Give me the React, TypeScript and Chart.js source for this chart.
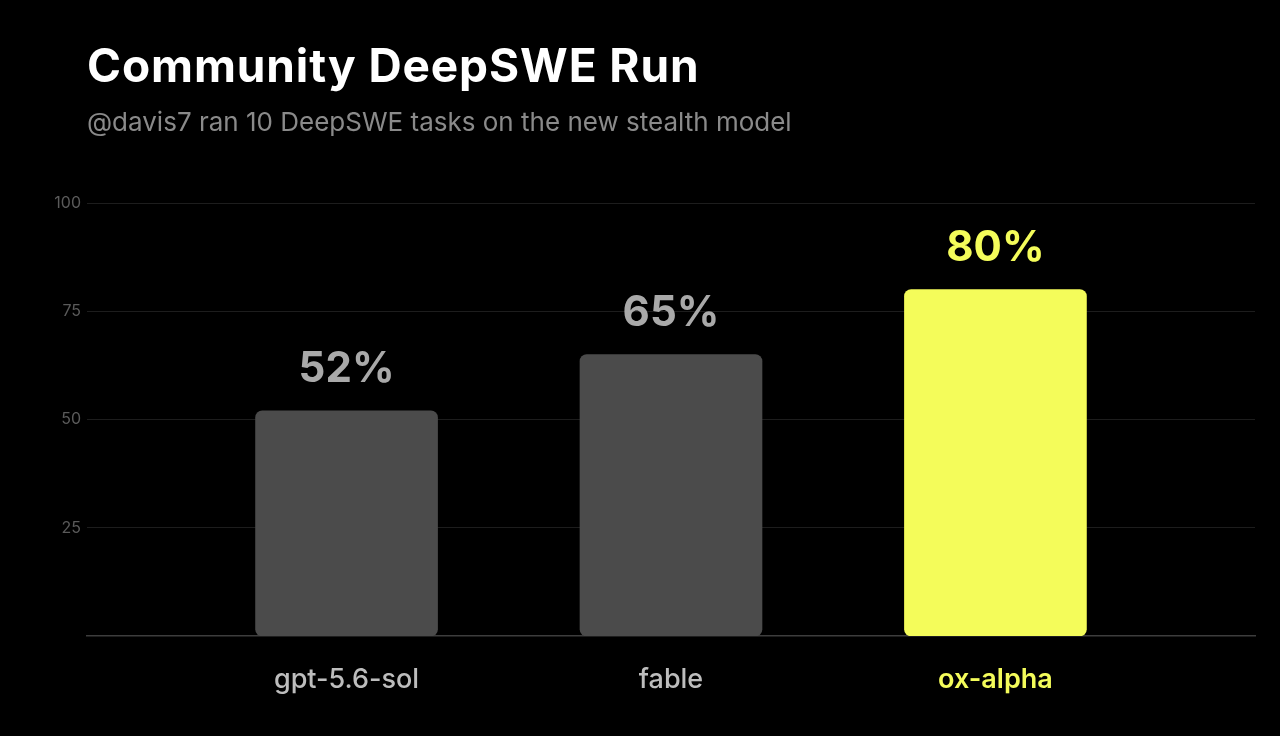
import React, { useEffect, useRef } from "react";
import { Chart, registerables } from "chart.js";

Chart.register(...registerables);

const TITLE = "Community DeepSWE Run";
const SUBTITLE = "@davis7 ran 10 DeepSWE tasks on the new stealth model";
const CATEGORIES = ["gpt-5.6-sol", "fable", "ox-alpha"];
const SCORES = [52, 65, 80];
const Y_TICKS = [25, 50, 75, 100];
const HIGHLIGHT = "ox-alpha";

const FONT = "Inter, 'Noto Sans', sans-serif";
const GRAY_BAR = "#4b4b4b";
const YELLOW = "#f4fc5a";
const GRAY_LABEL = "#a9a9a9";
const GRAY_TICK = "#bdbdbd";

const valueLabels = {
  id: "valueLabels",
  afterDatasetsDraw(chart: any) {
    const ctx = chart.ctx;
    const meta = chart.getDatasetMeta(0);
    ctx.save();
    ctx.font = `700 42px ${FONT}`;
    ctx.textAlign = "center";
    ctx.textBaseline = "alphabetic";
    meta.data.forEach((bar: any, i: number) => {
      ctx.fillStyle = CATEGORIES[i] === HIGHLIGHT ? YELLOW : GRAY_LABEL;
      ctx.fillText(`${SCORES[i]}%`, bar.x, bar.y - 29);
    });
    ctx.restore();
  },
};

export default function App() {
  const ref = useRef<HTMLCanvasElement | null>(null);

  useEffect(() => {
    document.body.style.margin = "0";
    document.body.style.background = "#000";
    const canvas = ref.current;
    if (!canvas) return;
    const chart = new Chart(canvas, {
      type: "bar",
      data: {
        datasets: [
          {
            data: SCORES.map((v, i) => ({ x: i + 1, y: v })),
            backgroundColor: CATEGORIES.map((c) => (c === HIGHLIGHT ? YELLOW : GRAY_BAR)),
            borderRadius: 7,
            borderSkipped: false,
            barThickness: 182,
          },
        ],
      },
      options: {
        animation: false,
        responsive: false,
        maintainAspectRatio: false,
        layout: { padding: { left: 0, right: 25, top: 203, bottom: 0 } },
        plugins: {
          legend: { display: false },
          tooltip: { enabled: false },
          title: { display: false },
        },
        scales: {
          x: {
            type: "linear",
            offset: false,
            min: 0.2,
            max: 3.8,
            afterBuildTicks: (axis: any) => {
              axis.ticks = CATEGORIES.map((_, i) => ({ value: i + 1 }));
            },
            afterFit: (axis: any) => {
              axis.height = 100;
            },
            grid: { display: false, drawTicks: false, offset: false },
            border: { display: true, color: "#3d3d3d", width: 1.5 },
            ticks: {
              autoSkip: false,
              maxRotation: 0,
              padding: 28,
              callback: (value: any) => CATEGORIES[Number(value) - 1] ?? "",
              color: (c: any) => (CATEGORIES[c.index] === HIGHLIGHT ? YELLOW : GRAY_TICK),
              font: (c: any) => ({
                family: FONT,
                size: 27,
                weight: CATEGORIES[c.index] === HIGHLIGHT ? "600" : "500",
              }),
            },
          },
          y: {
            min: 0,
            max: 100,
            afterBuildTicks: (axis: any) => {
              axis.ticks = Y_TICKS.map((v) => ({ value: v }));
            },
            afterFit: (axis: any) => {
              axis.width = 87;
            },
            grid: { color: "#1d1d1d", lineWidth: 1, drawTicks: false },
            border: { display: false },
            ticks: {
              padding: 6,
              color: "#5a5a5a",
              font: { family: FONT, size: 16, weight: "400" },
            },
          },
        },
      },
      plugins: [valueLabels],
    } as any);
    return () => chart.destroy();
  }, []);

  return (
    <div
      style={{
        position: "fixed",
        left: 0,
        top: 0,
        width: 1280,
        height: 736,
        background: "#000",
        overflow: "hidden",
      }}
    >
      <canvas ref={ref} width={1280} height={736} style={{ position: "absolute", left: 0, top: 0 }} />
      <div
        style={{
          position: "absolute",
          left: 87,
          top: 42,
          fontFamily: FONT,
          fontSize: 46,
          lineHeight: "46px",
          fontWeight: 700,
          letterSpacing: "0.9px",
          color: "#ffffff",
          whiteSpace: "nowrap",
        }}
      >
        {TITLE}
      </div>
      <div
        style={{
          position: "absolute",
          left: 87,
          top: 109,
          fontFamily: FONT,
          fontSize: 26,
          lineHeight: "26px",
          fontWeight: 400,
          color: "#8a8a8a",
          whiteSpace: "nowrap",
        }}
      >
        {SUBTITLE}
      </div>
    </div>
  );
}
